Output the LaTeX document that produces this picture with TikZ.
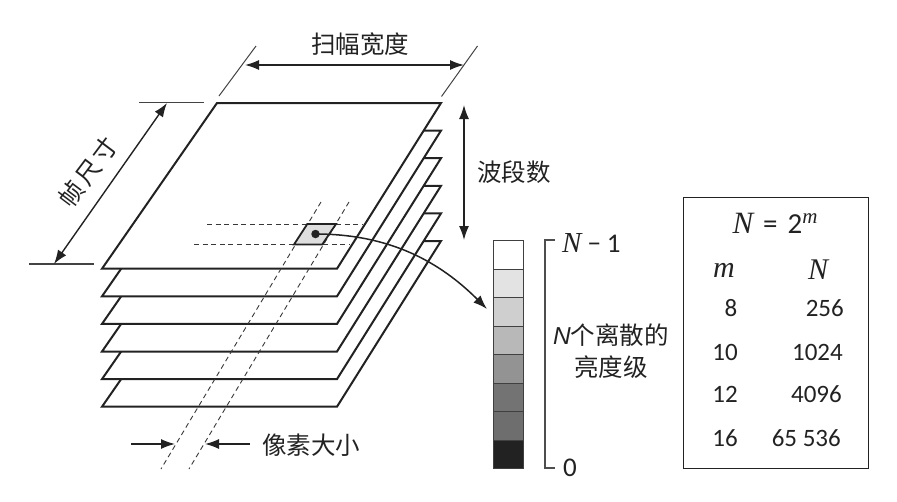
\documentclass[tikz,border=0pt]{standalone}
\usepackage{fontspec}
\setmainfont{Carlito}
\newfontfamily\cjk{Noto Sans CJK SC}
\newfontfamily\varserif{Liberation Serif}
\newfontfamily\varsans{Liberation Sans}
\usetikzlibrary{arrows.meta}
\definecolor{ink}{HTML}{222222}
\tikzset{
  sheet/.style={draw=ink,line width=2pt,fill=white,line join=miter},
  dim/.style={draw=ink,line width=1.4pt,{Latex[length=14pt,width=10pt]}-{Latex[length=14pt,width=10pt]}},
  onearrow/.style={draw=ink,line width=1.4pt,-{Latex[length=14pt,width=10pt]}},
  ext/.style={draw=ink!85,line width=1pt},
  guide/.style={draw=ink!90,line width=0.9pt,dash pattern=on 5pt off 3.6pt},
  lbl/.style={font=\cjk\fontsize{24.5}{26}\selectfont,text=ink,inner sep=0pt},
  num/.style={font=\fontsize{25}{27}\selectfont,text=ink,inner sep=0pt},
  var/.style={font=\varserif\itshape\fontsize{30}{32}\selectfont,text=ink,inner sep=0pt},
  cell/.style={draw=black!75,line width=1.1pt,minimum width=30pt,minimum height=28.5pt,inner sep=0pt,anchor=north west}
}
\begin{document}
\begin{tikzpicture}[x=1pt,y=-1pt]
\useasboundingbox (0,0) rectangle (897,501);
% stacked sheets
\foreach \k in {5,4,3,2,1,0}{
  \draw[sheet,yshift=-27.6*\k pt] (217,103) -- (441,103) -- (337,268.7) -- (102,268.7) -- cycle;
}
% guides
\coordinate (ga1) at (321,202); \coordinate (ga2) at (161,469);
\coordinate (gb1) at (349,202); \coordinate (gb2) at (189,469);
\coordinate (gc1) at (207,224); \coordinate (gc2) at (363,224);
\coordinate (gd1) at (194,244.5); \coordinate (gd2) at (350,244.5);
\draw[guide] (ga1) -- (ga2);
\draw[guide] (gb1) -- (gb2);
\draw[guide] (gc1) -- (gc2);
\draw[guide] (gd1) -- (gd2);
% pixel
\draw[draw=ink,line width=1.8pt,fill=black!13] (307.3,224) -- (336,224) -- (322.3,244.5) -- (294,244.5) -- cycle;
\node[circle,fill=ink,draw=none,minimum size=8.5pt,inner sep=0pt] (dot) at (315.5,234) {};
% dimension extensions
\coordinate (wa1) at (219,96); \coordinate (wa2) at (256,46);
\coordinate (wb1) at (441.5,96.5); \coordinate (wb2) at (477.5,46);
\draw[ext] (wa1) -- (wa2);
\draw[ext] (wb1) -- (wb2);
\coordinate (fa1) at (139,102.5); \coordinate (fa2) at (204,102.5);
\coordinate (fb1) at (29,264); \coordinate (fb2) at (94,264);
\draw[ext,line width=1.2pt] (fa1) -- (fa2);
\draw[ext,line width=1.2pt] (fb1) -- (fb2);
% dimension arrows
\coordinate (w1) at (245,65); \coordinate (w2) at (464,65);
\draw[dim] (w1) -- (w2);
\coordinate (f1) at (167,103); \coordinate (f2) at (54,264);
\draw[dim] (f1) -- (f2);
\coordinate (b1) at (464,105); \coordinate (b2) at (464,240);
\draw[dim] (b1) -- (b2);
\coordinate (p1) at (131,444); \coordinate (p2) at (175,444);
\coordinate (p3) at (250,444); \coordinate (p4) at (205,444);
\draw[onearrow] (p1) -- (p2);
\draw[onearrow] (p3) -- (p4);
% labels
\node[lbl] (tw) at (360,44) {扫幅宽度};
\node[lbl,rotate=53] (tf) at (88,172) {帧\hspace{3pt}尺\hspace{3pt}寸};
\node[lbl,anchor=west] (tb) at (477,172) {波段数};
\node[lbl,anchor=west] (tp) at (262,445) {像素大小};
% gray scale
\foreach \i/\c in {0/FFFFFF,1/E3E3E3,2/CFCFCF,3/B8B8B8,4/939393,5/737373,6/6E6E6E,7/222222}{
  \definecolor{cellc}{HTML}{\c}
  \node[cell,fill=cellc] (g\i) at (493,{240+28.5*\i}) {};
}
% curve to gray scale
\coordinate (tip) at (487,309);
\draw[draw=ink,line width=1.5pt,-{Latex[length=14pt,width=10pt]}] (dot.center) .. controls (390,234) and (440,262) .. (tip);
% bracket
\coordinate (ba) at (555,240); \coordinate (bb) at (545,240);
\coordinate (bc) at (545,468); \coordinate (bd) at (555,468);
\draw[draw=ink!80,line width=1.2pt] (ba) -- (bb) -- (bc) -- (bd);
\node[anchor=west,inner sep=0pt,text=ink] (nm) at (562,243) {{\varserif\itshape\fontsize{29}{31}\selectfont N}\fontsize{27}{29}\selectfont\hspace{6pt}−\hspace{6pt}1};
\node[num,anchor=west,font=\fontsize{27}{29}\selectfont] (zero) at (563,468) {0};
\node[lbl] (t1) at (611,335) {{\varsans\itshape N}个离散的};
\node[lbl] (t2) at (611,367) {亮度级};
% table box
\node[draw=ink,line width=1.2pt,minimum width=185pt,minimum height=271pt,anchor=north west,inner sep=0pt] (box) at (683,197) {};
\node[anchor=center,inner sep=0pt,text=ink] (eq) at (775,223) {{\varserif\itshape\fontsize{31}{33}\selectfont N}\fontsize{29}{31}\selectfont\hspace{10pt}=\hspace{10pt}2\raisebox{10pt}{\varserif\itshape\fontsize{21}{23}\selectfont m}};
\node[var] (hm) at (724,270) {m};
\node[var] (hn) at (818,270) {N};
\node[num] (r1a) at (731,308) {8};
\node[num] (r2a) at (725,352) {10};
\node[num] (r3a) at (725,394) {12};
\node[num] (r4a) at (725,438) {16};
\node[num,anchor=east] (r1b) at (844,308) {256};
\node[num,anchor=east] (r2b) at (843,352) {1024};
\node[num,anchor=east] (r3b) at (842,394) {4096};
\node[num,anchor=east] (r4b) at (841,438) {65 536};
\end{tikzpicture}
\end{document}
